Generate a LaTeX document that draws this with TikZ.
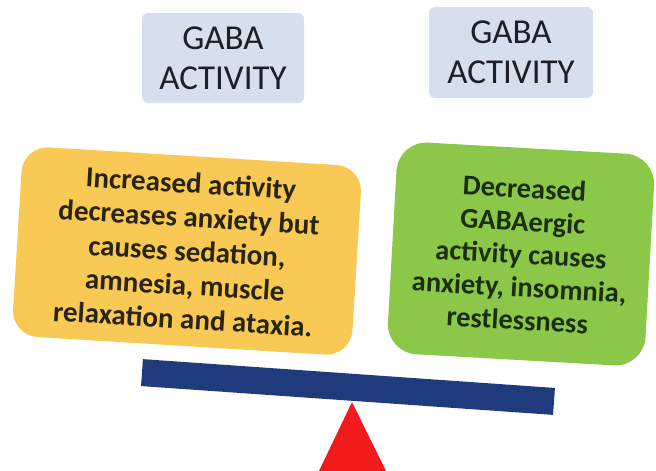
\documentclass[tikz,border=0pt]{standalone}
\usepackage{fontspec}
\setmainfont{Carlito}
\definecolor{labelblue}{HTML}{D6E0ED}
\definecolor{labeltext}{HTML}{1C1F26}
\definecolor{calmyellow}{HTML}{F8C954}
\definecolor{yellowtext}{HTML}{2A2414}
\definecolor{alertgreen}{HTML}{8BC84A}
\definecolor{greentext}{HTML}{1B2E10}
\definecolor{beamblue}{HTML}{1F3B7C}
\definecolor{pivotred}{HTML}{F21B1B}
\begin{document}
\begin{tikzpicture}[x=1pt,y=-1pt,
  label box/.style={fill=labelblue, rounded corners=6pt, minimum width=162pt,
    minimum height=90pt, align=center, inner sep=0pt, text=labeltext,
    font=\fontsize{35}{40}\selectfont},
  effect box/.style={rounded corners=26pt, align=center, inner sep=0pt,
    font=\bfseries\fontsize{29}{34}\selectfont},
]
% canvas
\fill[white] (0,0) rectangle (656,471);
\useasboundingbox (0,0) rectangle (656,471);

% headings
\node[label box] (gabaL) at (223,58) {GABA\\ACTIVITY};
\node[label box, minimum width=164pt, minimum height=91pt] (gabaR) at (511,52.5) {GABA\\ACTIVITY};

% the two pans of the balance
\node[effect box, fill=calmyellow, text=yellowtext, minimum width=340pt,
      minimum height=190pt, rotate=-3.5] (high) at (187,251)
  {Increased activity\\decreases anxiety but\\causes sedation,\\amnesia, muscle\\relaxation and ataxia.};
\node[effect box, fill=alertgreen, text=greentext, minimum width=258pt,
      minimum height=212pt, rotate=-3.2, rounded corners=30pt,
      font=\bfseries\fontsize{28.5}{33}\selectfont] (low) at (521,254)
  {Decreased\\GABAergic\\activity causes\\anxiety, insomnia,\\restlessness};

% beam and pivot
\node[fill=beamblue, minimum width=413pt, minimum height=27pt, inner sep=0pt,
      rotate=-4] (beam) at (348,387) {};
\coordinate (apex) at (352,402);
\coordinate (baseR) at (386,471);
\coordinate (baseL) at (319,471);
\fill[pivotred] (apex) -- (baseR) -- (baseL) -- cycle;
\end{tikzpicture}
\end{document}
